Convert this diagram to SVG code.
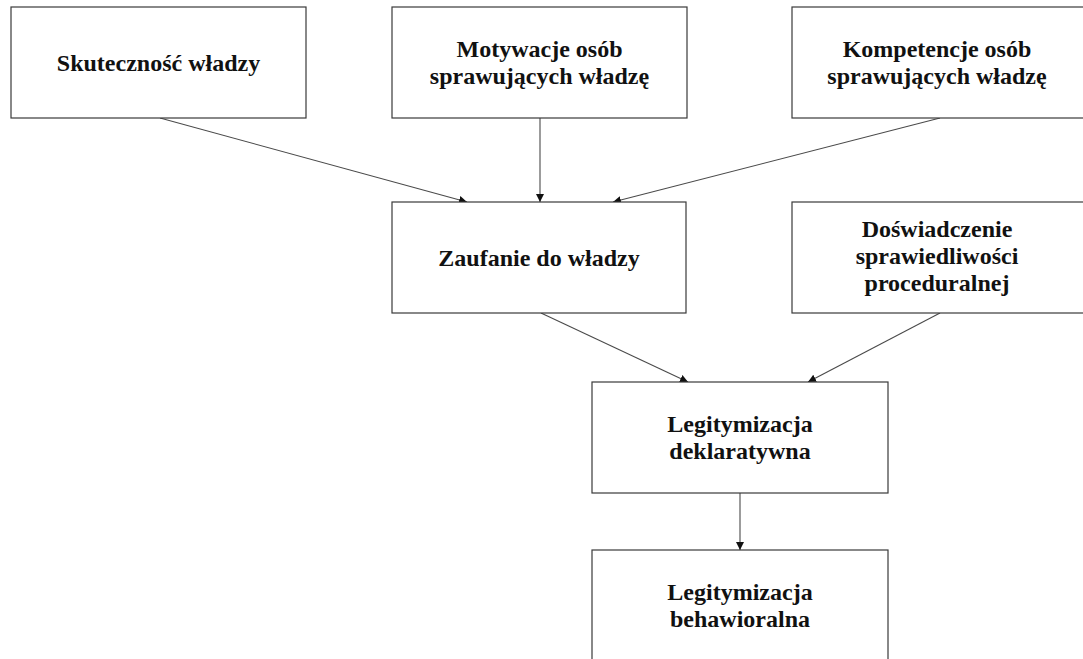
<svg xmlns="http://www.w3.org/2000/svg" width="1083" height="659" viewBox="0 0 1083 659">
  <style>
    .box { fill: #ffffff; stroke: #3a3a3a; stroke-width: 1.2; }
    .lbl { font-family: "Liberation Serif", "Times New Roman", serif; font-weight: bold; font-size: 24px; fill: #111111; text-anchor: middle; }
    .edge { stroke: #4a4a4a; stroke-width: 1.1; fill: none; marker-end: url(#arrow); }
  </style>
  <defs>
    <marker id="arrow" viewBox="0 0 10 10" refX="10" refY="5" markerWidth="8" markerHeight="8" markerUnits="userSpaceOnUse" orient="auto">
      <path d="M0,0 L10,5 L0,10 z" fill="#111111"/>
    </marker>
  </defs>
  <rect width="1083" height="659" fill="#ffffff"/>

  <g id="connectors">
    <line class="edge" x1="160" y1="118" x2="467" y2="202"/>
    <line class="edge" x1="540" y1="118" x2="540" y2="202"/>
    <line class="edge" x1="940" y1="118" x2="613" y2="202"/>
    <line class="edge" x1="541" y1="313" x2="688" y2="382"/>
    <line class="edge" x1="940" y1="313" x2="808" y2="382"/>
    <line class="edge" x1="740" y1="493" x2="740" y2="550"/>
  </g>

  <g id="skutecznosc">
    <rect class="box" x="11" y="7" width="295" height="111"/>
    <text class="lbl" x="158.5" y="71">Skuteczność władzy</text>
  </g>

  <g id="motywacje">
    <rect class="box" x="392" y="7" width="295" height="111"/>
    <text class="lbl" x="539.5" y="57">Motywacje osób</text>
    <text class="lbl" x="539.5" y="84">sprawujących władzę</text>
  </g>

  <g id="kompetencje">
    <rect class="box" x="792" y="7" width="296" height="111"/>
    <text class="lbl" x="937" y="57">Kompetencje osób</text>
    <text class="lbl" x="937" y="84">sprawujących władzę</text>
  </g>

  <g id="zaufanie">
    <rect class="box" x="392" y="202" width="294" height="111"/>
    <text class="lbl" x="539" y="266">Zaufanie do władzy</text>
  </g>

  <g id="doswiadczenie">
    <rect class="box" x="792" y="202" width="296" height="111"/>
    <text class="lbl" x="937" y="237">Doświadczenie</text>
    <text class="lbl" x="937" y="264">sprawiedliwości</text>
    <text class="lbl" x="937" y="291">proceduralnej</text>
  </g>

  <g id="deklaratywna">
    <rect class="box" x="592" y="382" width="296" height="111"/>
    <text class="lbl" x="740" y="432">Legitymizacja</text>
    <text class="lbl" x="740" y="459">deklaratywna</text>
  </g>

  <g id="behawioralna">
    <rect class="box" x="592" y="550" width="296" height="112"/>
    <text class="lbl" x="740" y="600">Legitymizacja</text>
    <text class="lbl" x="740" y="627">behawioralna</text>
  </g>
</svg>
